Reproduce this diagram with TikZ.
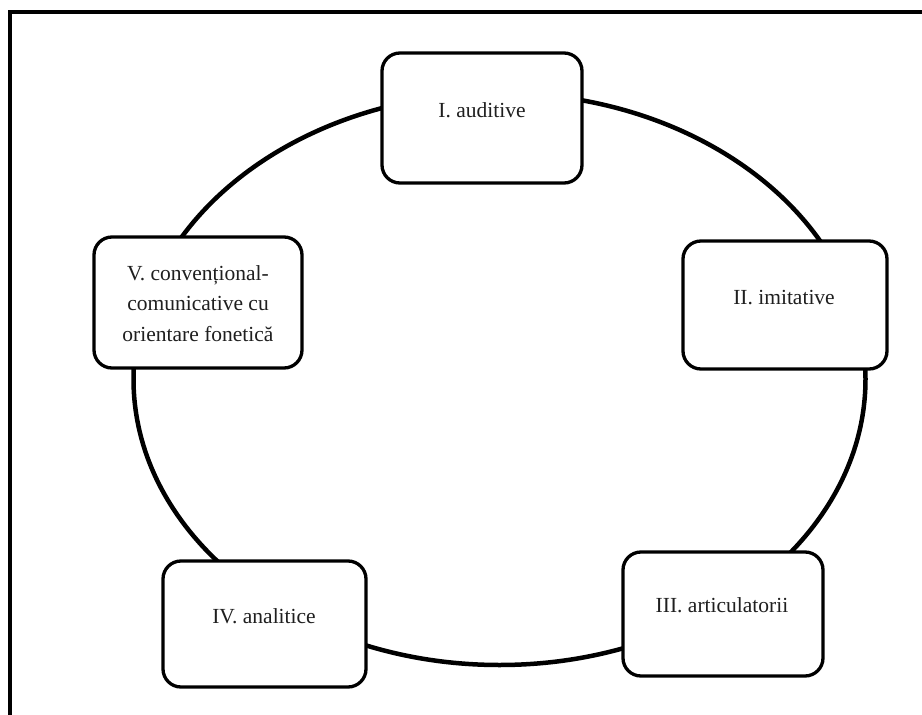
\documentclass[tikz,border=0pt]{standalone}
\usepackage{fontspec}
\setmainfont{Liberation Serif}
\begin{document}
\begin{tikzpicture}[x=1pt,y=-1pt,
  stagebox/.style={draw=black,line width=3.3pt,fill=white,rounded corners=18pt,
    inner sep=0pt,minimum width=#1},
  stagetext/.style={anchor=base,inner sep=0pt,text=black!88,
    font=\fontsize{21.5}{30.5}\selectfont}]
\useasboundingbox (0,0) rectangle (922,715);

% outer frame (left and top edges)
\draw[line width=4pt] (10.3,715) -- (10.3,12) -- (922,12);

% the cycle joining the five stages
\draw[line width=4.5pt] (499.5,379) ellipse [x radius=366, y radius=286];

% stage boxes
\node[stagebox=200pt,minimum height=130pt] (b1) at (482,118) {};
\node[stagebox=204pt,minimum height=128pt] (b2) at (785,305) {};
\node[stagebox=200pt,minimum height=124pt] (b3) at (723,614) {};
\node[stagebox=203pt,minimum height=126pt] (b4) at (264.5,624) {};
\node[stagebox=208pt,minimum height=131pt] (b5) at (198,302.5) {};

% stage labels
\node[stagetext] (t1) at (482,117) {I. auditive};
\node[stagetext] (t2) at (784,304) {II. imitative};
\node[stagetext] (t3) at (722,612) {III. articulatorii};
\node[stagetext] (t4) at (264,623) {IV. analitice};
\node[stagetext] (t5) at (198,280) {\setlength{\tabcolsep}{0pt}%
  \begin{tabular}[t]{c}V. convențional-\\comunicative cu\\orientare fonetică\end{tabular}};
\end{tikzpicture}
\end{document}
